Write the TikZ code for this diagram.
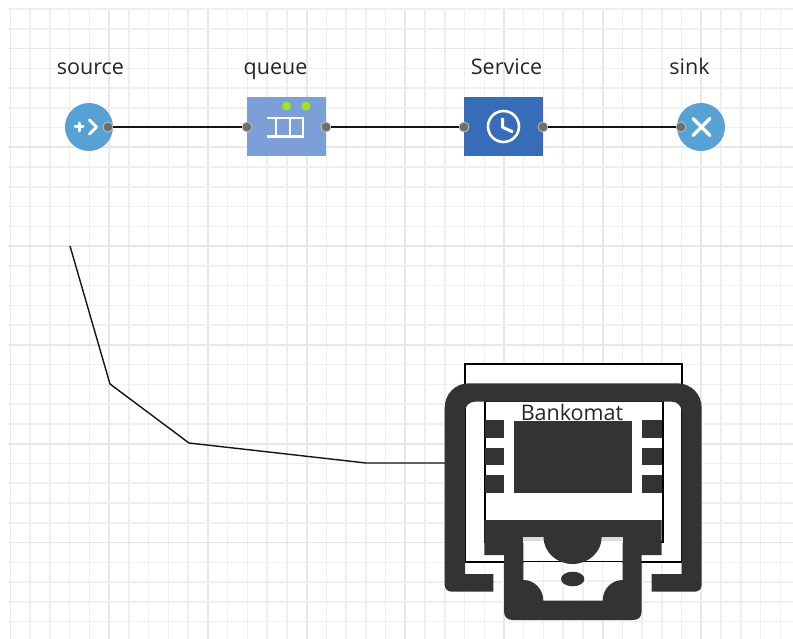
\documentclass[tikz,border=0pt]{standalone}
\usepackage{fontspec}
\setmainfont{Open Sans}
\usetikzlibrary{calc}
\definecolor{gridminor}{HTML}{EFEFEF}
\definecolor{gridmajor}{HTML}{E7E7E7}
\definecolor{roundblue}{HTML}{56A2D5}
\definecolor{queueblue}{HTML}{7B9FD6}
\definecolor{serviceblue}{HTML}{366CB8}
\definecolor{portgray}{HTML}{6E6E6E}
\definecolor{leddot}{HTML}{A3E21F}
\definecolor{atmdark}{HTML}{333333}
\definecolor{wire}{HTML}{141414}
\tikzset{
  x=1pt,y=-1pt,
  gridthin/.style={draw=gridminor,line width=1.5pt},
  gridthick/.style={draw=gridmajor,line width=1.9pt},
  round block/.style={circle,fill=roundblue,minimum size=48pt,inner sep=0pt},
  rect block/.style={rectangle,minimum width=79pt,minimum height=59pt,inner sep=0pt},
  portdot/.style={circle,fill=portgray,draw=white!60!portgray,line width=0.8pt,minimum size=10pt,inner sep=0pt},
  led/.style={circle,fill=leddot,minimum size=9pt,inner sep=0pt},
  lbl/.style={font=\fontsize{21.5}{24}\selectfont,text=black!85,inner sep=0pt,anchor=base},
  wireline/.style={draw=wire,line width=1.5pt},
  iconline/.style={draw=white,line width=3pt},
  boxline/.style={draw=black,line width=1.3pt,fill=white},
  atm/.style={fill=atmdark,draw=none}
}
\begin{document}
\begin{tikzpicture}
\useasboundingbox (0,0) rectangle (793,639);
\fill[white] (0,0) rectangle (793,639);
% grid
\foreach \i in {0,...,39}{
  \pgfmathsetmacro{\gx}{10.5+19.74*\i}
  \pgfmathtruncatemacro{\mj}{mod(\i,5)==0 ? 1 : 0}
  \ifnum\mj=1\relax\draw[gridthick] (\gx,9) -- (\gx,639);\else\draw[gridthin] (\gx,9) -- (\gx,639);\fi
}
\foreach \i in {0,...,31}{
  \pgfmathsetmacro{\gy}{9+19.76*\i}
  \pgfmathtruncatemacro{\mj}{mod(\i,5)==2 ? 1 : 0}
  \ifnum\mj=1\relax\draw[gridthick] (8,\gy) -- (793,\gy);\else\draw[gridthin] (8,\gy) -- (793,\gy);\fi
}
% blocks
\node[round block] (source) at (89,127) {};
\node[rect block,fill=queueblue] (queue) at (286.5,126.5) {};
\node[rect block,fill=serviceblue] (service) at (503.5,126.5) {};
\node[round block] (sink) at (701,127) {};
% labels
\node[lbl] (sourcelabel) at (90.5,75) {source};
\node[lbl] (queuelabel) at (275.5,75) {queue};
\node[lbl] (servicelabel) at (506.5,75) {Service};
\node[lbl] (sinklabel) at (689.5,75) {sink};
% ports
\node[portdot] (sourceout) at (108,127) {};
\node[portdot] (queuein) at (247,127) {};
\node[portdot] (queueout) at (326,127) {};
\node[portdot] (servicein) at (464,127) {};
\node[portdot] (serviceout) at (543,127) {};
\node[portdot] (sinkin) at (681,127) {};
\draw[wireline] (sourceout) -- (queuein);
\draw[wireline] (queueout) -- (servicein);
\draw[wireline] (serviceout) -- (sinkin);
% source icon
\draw[iconline,line cap=round] (75,127) -- (83,127) (79,123) -- (79,131);
\draw[iconline,line cap=round,line join=round] (89.5,120) -- (96.5,127) -- (89.5,134);
% queue leds and icon
\node[led] (ledone) at (286.5,106) {};
\node[led] (ledtwo) at (306,106) {};
\draw[draw=white,line width=2.8pt] (266.7,118) -- (303,118) -- (303,136.7) -- (266.7,136.7)
  (276,118) -- (276,136.7) (290,118) -- (290,136.7);
% service icon
\draw[draw=white,line width=2.6pt] (503.5,126.5) circle[radius=15.5];
\draw[draw=white,line width=3pt,line join=round] (502.7,118) -- (502.7,127.3) -- (513,132);
% sink icon
\draw[draw=white,line width=3.4pt,line cap=round] (693,118.5) -- (710,135.5) (693,135.5) -- (710,118.5);
% free wire
\coordinate (wirestart) at (70,246);
\coordinate (bendone) at (110,384);
\coordinate (bendtwo) at (189,443);
\coordinate (bendthree) at (366,463);
\coordinate (wireend) at (446,463);
\draw[wireline,line width=1.4pt] (wirestart) -- (bendone) -- (bendtwo) -- (bendthree) -- (wireend);
% Bankomat boxes
\node[boxline,rectangle,minimum width=217pt,minimum height=198pt,inner sep=0pt] (outerbox) at (573.5,463) {};
\node[boxline,rectangle,minimum width=178pt,minimum height=141pt,inner sep=0pt] (innerbox) at (574,471.5) {};
\node[lbl] (atmlabel) at (572,420) {Bankomat};
% the see-through lower part of the cash slot shows the grid again
\begin{scope}
  \clip (523.3,562.4) rectangle (622.7,602);
  \fill[white] (523.3,562.4) rectangle (622.7,602);
  \foreach \gx in {543.5,563.2,583,602.7}{\draw[gridthin] (\gx,562) -- (\gx,602);}
  \draw[gridthin] (523,581) -- (623,581);
\end{scope}
% ATM icon
\fill[atm] (493.3,591.7) -- (452,591.7) .. controls (447.5,591.7) and (444.7,589) .. (444.7,584.5)
  -- (444.7,408) .. controls (444.7,394) and (455,383.3) .. (469,383.3)
  -- (677,383.3) .. controls (691,383.3) and (701.7,394) .. (701.7,408)
  -- (701.7,584.5) .. controls (701.7,589) and (699,591.7) .. (694.5,591.7)
  -- (651.7,591.7) -- (651.7,574) -- (681.7,574)
  -- (681.7,412) .. controls (681.7,406) and (677.5,401.7) .. (671.7,401.7)
  -- (475,401.7) .. controls (469,401.7) and (465,406) .. (465,412)
  -- (465,574) -- (493.3,574) -- cycle;
\fill[atm] (484.5,420) rectangle (504,437.5);
\fill[atm] (484.5,447.5) rectangle (504,465);
\fill[atm] (484.5,475) rectangle (504,492.5);
\fill[atm] (642,420) rectangle (661.7,437.5);
\fill[atm] (642,447.5) rectangle (661.7,465);
\fill[atm] (642,475) rectangle (661.7,492.5);
\fill[atm] (514,420.5) rectangle (631.7,492.5);
% band and cash holder, with the slot as a hole
\fill[atm,even odd rule] (484.3,520) -- (661.7,520) -- (661.7,555) -- (641.7,555) -- (641.7,611)
  .. controls (641.7,617) and (638.7,620) .. (632.7,620) -- (513,620)
  .. controls (507,620) and (504,617) .. (504,611) -- (504,555) -- (484.3,555) -- cycle
  (523.3,537) -- (622.7,537) -- (622.7,580) .. controls (611.7,580) and (602.7,589) .. (602.7,600.7)
  -- (543.3,600.7) .. controls (543.3,589) and (534.3,580) .. (523.3,580) -- cycle;
% pale strip where the inner box ends behind the slot
\fill[white] (523.3,541) rectangle (622.7,543.2);
\fill[black!14] (523.3,537) rectangle (622.7,541);
\fill[atm] (543.5,537) -- (601.7,537) arc[start angle=0,end angle=180,x radius=29.1,y radius=27] -- cycle;
\fill[atm] (572.7,579) ellipse[x radius=11.7,y radius=7.3];
\end{tikzpicture}
\end{document}
